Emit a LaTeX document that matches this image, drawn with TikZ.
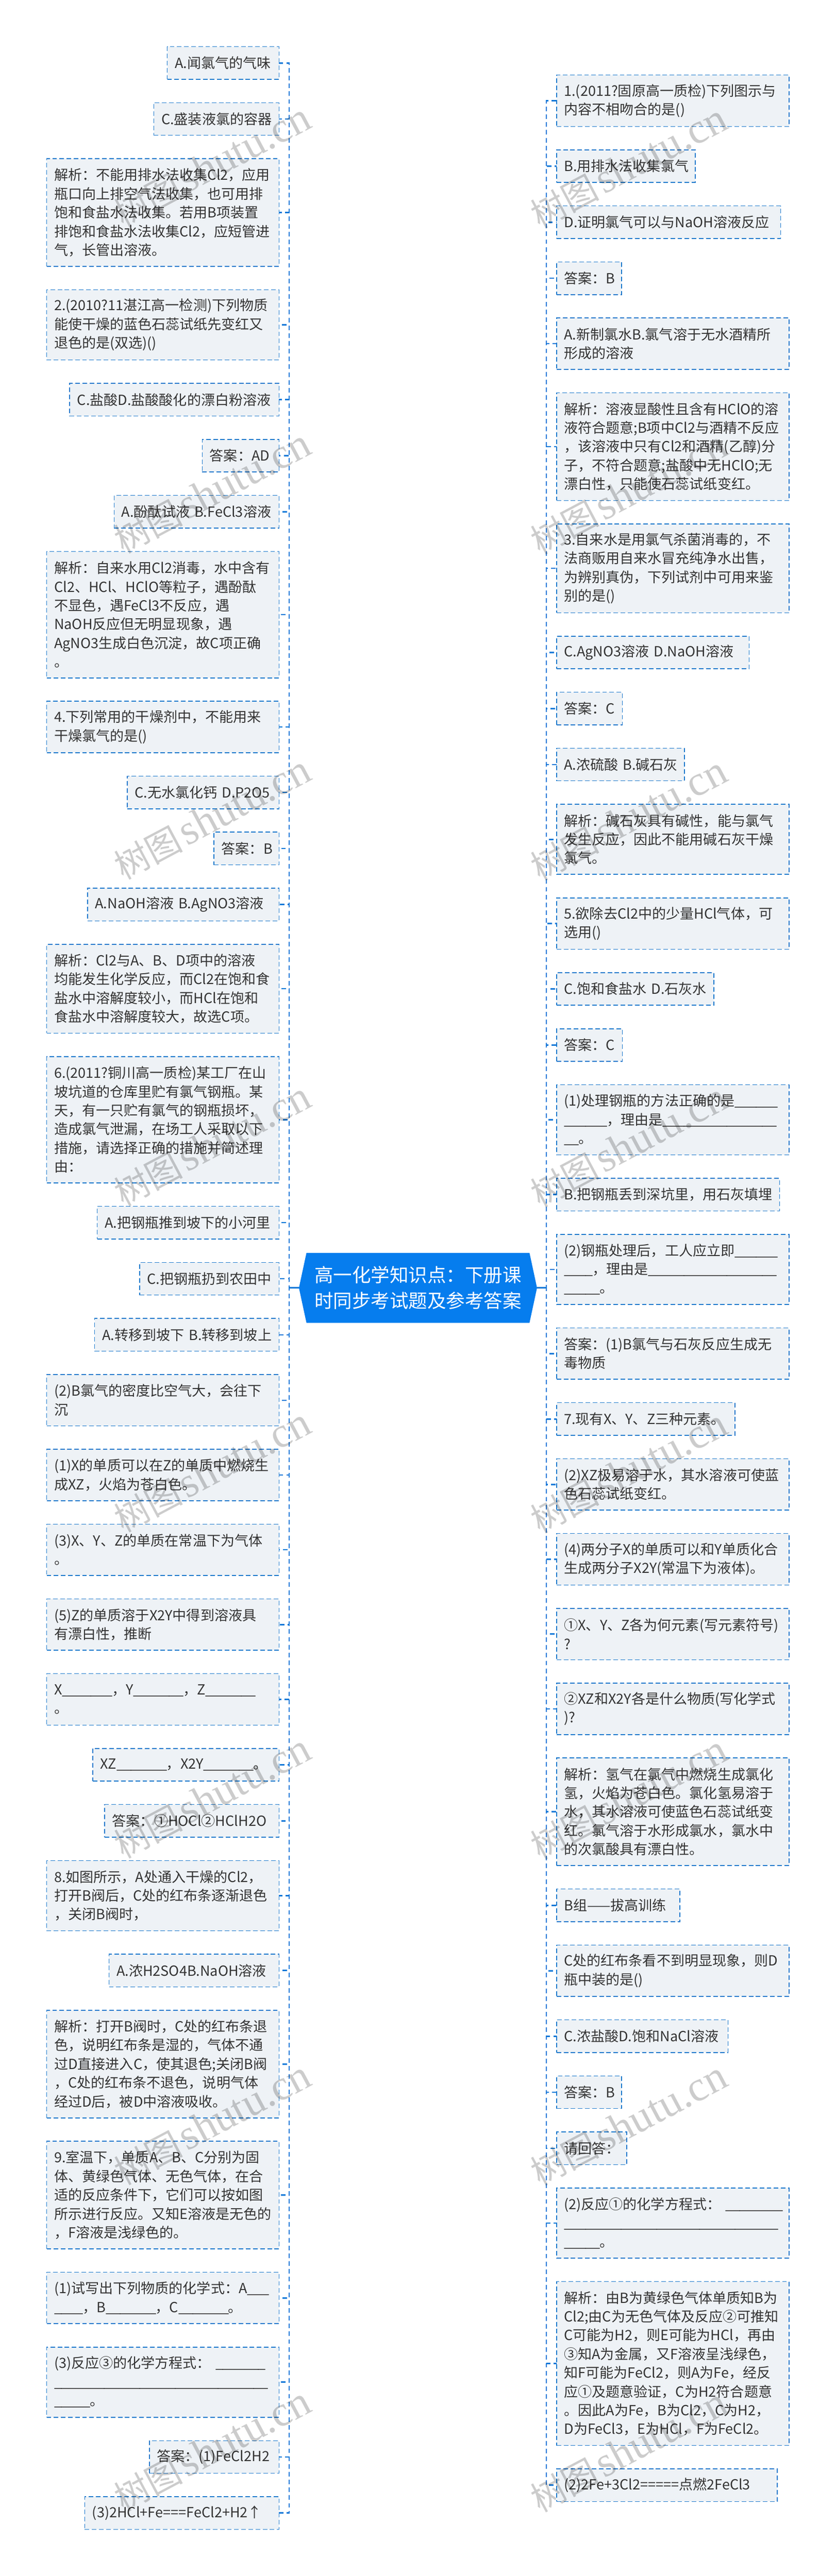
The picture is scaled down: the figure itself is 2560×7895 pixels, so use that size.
\documentclass[tikz,border=0pt]{standalone}
\usepackage{fontspec}
\usepackage{tikz}
\usetikzlibrary{shapes.symbols}
\setmainfont[WordSpace=1.8]{Noto Sans CJK SC}
\newfontfamily\wmlatin{Liberation Serif}
\definecolor{boxfill}{HTML}{EEF2F6}
\definecolor{boxline}{HTML}{1B78CC}
\definecolor{linkblue}{HTML}{0F78D8}
\definecolor{rootblue}{HTML}{067DEE}
\definecolor{inktext}{HTML}{333333}
\newcommand{\ub}[1]{\foreach \i in {1,...,#1}{\makebox[0.218cm][l]{\_}}}
\tikzset{
  itembox/.style={draw=boxline,fill=boxfill,line width=0.7pt,dash pattern=on 4pt off 2.2pt,
    text=inktext,font=\fontsize{12.15}{16.35}\selectfont,align=left,
    inner xsep=0.23cm,inner ysep=0pt,outer sep=0pt},
  lbox/.style 2 args={itembox,anchor=north east,text width=(#1-46)*0.01cm,minimum height=(42.55+57.45*#2)*0.01cm},
  rbox/.style 2 args={itembox,anchor=north west,text width=(#1-46)*0.01cm,minimum height=(42.55+57.45*#2)*0.01cm},
  rootbox/.style={signal,signal to=west and east,signal pointer angle=155.7,fill=rootblue,text=white,
    font=\fontsize{16.4}{22.5}\selectfont,align=left,minimum width=7.29cm,minimum height=2.14cm,inner sep=0pt,outer sep=0pt},
  link/.style={draw=linkblue,line width=1.15pt,dash pattern=on 4pt off 2.8pt},
  rootlink/.style={draw=linkblue,line width=1.15pt},
  wmark/.style={rotate=28,text=black,text opacity=0.2,font=\fontsize{30}{30}\selectfont}
}
\begin{document}
\begin{tikzpicture}[x=0.01cm,y=-0.01cm]
  \useasboundingbox (0,0) rectangle (2560,7895);
  \node[rootbox] (root) at (1280.5,3947) {高一化学知识点：下册课\\时同步考试题及参考答案};
  % left column
  \node[lbox={342.5}{1}] (l1) at (855,143) {A.闻氯气的气味};
  \node[lbox={383.6}{1}] (l2) at (855,314.8) {C.盛装液氯的容器};
  \node[lbox={712}{5}] (l3) at (855,486.6) {解析：不能用排水法收集Cl2，应用\\瓶口向上排空气法收集，也可用排\\饱和食盐水法收集。若用B项装置\\排饱和食盐水法收集Cl2，应短管进\\气，长管出溶液。};
  \node[lbox={712}{3}] (l4) at (855,888.2) {2.(2010?11湛江高一检测)下列物质\\能使干燥的蓝色石蕊试纸先变红又\\退色的是(双选)()};
  \node[lbox={641.5}{1}] (l5) at (855,1174.9) {C.盐酸D.盐酸酸化的漂白粉溶液};
  \node[lbox={235.5}{1}] (l6) at (855,1346.7) {答案：AD};
  \node[lbox={505.4}{1}] (l7) at (855,1518.5) {A.酚酞试液~B.FeCl3溶液};
  \node[lbox={712}{6}] (l8) at (855,1690.3) {解析：自来水用Cl2消毒，水中含有\\Cl2、HCl、HClO等粒子，遇酚酞\\不显色，遇FeCl3不反应，遇\\NaOH反应但无明显现象，遇\\AgNO3生成白色沉淀，故C项正确\\。};
  \node[lbox={712}{2}] (l9) at (855,2149.35) {4.下列常用的干燥剂中，不能用来\\干燥氯气的是()};
  \node[lbox={465.4}{1}] (l10) at (855,2378.6) {C.无水氯化钙~D.P2O5};
  \node[lbox={199.3}{1}] (l11) at (855,2550.4) {答案：B};
  \node[lbox={586.6}{1}] (l12) at (855,2722.2) {A.NaOH溶液~B.AgNO3溶液};
  \node[lbox={712}{4}] (l13) at (855,2894) {解析：Cl2与A、B、D项中的溶液\\均能发生化学反应，而Cl2在饱和食\\盐水中溶解度较小，而HCl在饱和\\食盐水中溶解度较大，故选C项。};
  \node[lbox={712}{6}] (l14) at (855,3238.15) {6.(2011?铜川高一质检)某工厂在山\\坡坑道的仓库里贮有氯气钢瓶。某\\天，有一只贮有氯气的钢瓶损坏，\\造成氯气泄漏，在场工人采取以下\\措施，请选择正确的措施并简述理\\由：};
  \node[lbox={557}{1}] (l15) at (855,3697.2) {A.把钢瓶推到坡下的小河里};
  \node[lbox={427}{1}] (l16) at (855,3869) {C.把钢瓶扔到农田中};
  \node[lbox={565}{1}] (l17) at (855,4040.8) {A.转移到坡下~B.转移到坡上};
  \node[lbox={712}{2}] (l18) at (855,4212.6) {(2)B氯气的密度比空气大，会往下\\沉};
  \node[lbox={712}{2}] (l19) at (855,4441.85) {(1)X的单质可以在Z的单质中燃烧生\\成XZ，火焰为苍白色。};
  \node[lbox={712}{2}] (l20) at (855,4671.1) {(3)X、Y、Z的单质在常温下为气体\\。};
  \node[lbox={712}{2}] (l21) at (855,4900.35) {(5)Z的单质溶于X2Y中得到溶液具\\有漂白性，推断};
  \node[lbox={712}{2}] (l22) at (855,5129.6) {X\ub{7}，Y\ub{7}，Z\ub{7}\\。};
  \node[lbox={571}{1}] (l23) at (855,5358.85) {XZ\ub{7}，X2Y\ub{7}。};
  \node[lbox={534}{1}] (l24) at (855,5530.65) {答案：①HOCl②HClH2O};
  \node[lbox={712}{3}] (l25) at (855,5702.45) {8.如图所示，A处通入干燥的Cl2，\\打开B阀后，C处的红布条逐渐退色\\，关闭B阀时，};
  \node[lbox={521}{1}] (l26) at (855,5989.15) {A.浓H2SO4B.NaOH溶液};
  \node[lbox={712}{5}] (l27) at (855,6160.95) {解析：打开B阀时，C处的红布条退\\色，说明红布条是湿的，气体不通\\过D直接进入C，使其退色;关闭B阀\\，C处的红布条不退色，说明气体\\经过D后，被D中溶液吸收。};
  \node[lbox={712}{5}] (l28) at (855,6562.55) {9.室温下，单质A、B、C分别为固\\体、黄绿色气体、无色气体，在合\\适的反应条件下，它们可以按如图\\所示进行反应。又知E溶液是无色的\\，F溶液是浅绿色的。};
  \node[lbox={712}{2}] (l29) at (855,6964.15) {(1)试写出下列物质的化学式：A\ub{3}\\\ub{4}，B\ub{7}，C\ub{7}。};
  \node[lbox={712}{3}] (l30) at (855,7193.4) {(3)反应③的化学方程式：~\ub{7}\\\ub{30}\\\ub{5}。};
  \node[lbox={397.4}{1}] (l31) at (855,7480.1) {答案：(1)FeCl2H2};
  \node[lbox={595.4}{1}] (l32) at (855,7651.9) {(3)2HCl+Fe===FeCl2+H2↑};
  % right column
  \node[rbox={712}{2}] (r1) at (1705,230) {1.(2011?固原高一质检)下列图示与\\内容不相吻合的是()};
  \node[rbox={425}{1}] (r2) at (1705,459.25) {B.用排水法收集氯气};
  \node[rbox={686}{1}] (r3) at (1705,631.05) {D.证明氯气可以与NaOH溶液反应};
  \node[rbox={199}{1}] (r4) at (1705,802.85) {答案：B};
  \node[rbox={712}{2}] (r5) at (1705,974.65) {A.新制氯水B.氯气溶于无水酒精所\\形成的溶液};
  \node[rbox={712}{5}] (r6) at (1705,1203.9) {解析：溶液显酸性且含有HClO的溶\\液符合题意;B项中Cl2与酒精不反应\\，该溶液中只有Cl2和酒精(乙醇)分\\子，不符合题意;盐酸中无HClO;无\\漂白性，只能使石蕊试纸变红。};
  \node[rbox={712}{4}] (r7) at (1705,1605.5) {3.自来水是用氯气杀菌消毒的，不\\法商贩用自来水冒充纯净水出售，\\为辨别真伪，下列试剂中可用来鉴\\别的是()};
  \node[rbox={590}{1}] (r8) at (1705,1949.65) {C.AgNO3溶液~D.NaOH溶液};
  \node[rbox={201.5}{1}] (r9) at (1705,2121.45) {答案：C};
  \node[rbox={392}{1}] (r10) at (1705,2293.25) {A.浓硫酸~B.碱石灰};
  \node[rbox={712}{3}] (r11) at (1705,2465.05) {解析：碱石灰具有碱性，能与氯气\\发生反应，因此不能用碱石灰干燥\\氯气。};
  \node[rbox={712}{2}] (r12) at (1705,2751.75) {5.欲除去Cl2中的少量HCl气体，可\\选用()};
  \node[rbox={482}{1}] (r13) at (1705,2981) {C.饱和食盐水~D.石灰水};
  \node[rbox={201.5}{1}] (r14) at (1705,3152.8) {答案：C};
  \node[rbox={712}{3}] (r15) at (1705,3324.6) {(1)处理钢瓶的方法正确的是\ub{6}\\\ub{6}，理由是\ub{16}\\\ub{2}。};
  \node[rbox={683}{1}] (r16) at (1705,3611.3) {B.把钢瓶丢到深坑里，用石灰填埋};
  \node[rbox={712}{3}] (r17) at (1705,3783.1) {(2)钢瓶处理后，工人应立即\ub{6}\\\ub{4}，理由是\ub{18}\\\ub{5}。};
  \node[rbox={712}{2}] (r18) at (1705,4069.8) {答案：(1)B氯气与石灰反应生成无\\毒物质};
  \node[rbox={546.5}{1}] (r19) at (1705,4299.05) {7.现有X、Y、Z三种元素。};
  \node[rbox={712}{2}] (r20) at (1705,4470.85) {(2)XZ极易溶于水，其水溶液可使蓝\\色石蕊试纸变红。};
  \node[rbox={712}{2}] (r21) at (1705,4700.1) {(4)两分子X的单质可以和Y单质化合\\生成两分子X2Y(常温下为液体)。};
  \node[rbox={712}{2}] (r22) at (1705,4929.35) {①X、Y、Z各为何元素(写元素符号)\\?};
  \node[rbox={712}{2}] (r23) at (1705,5158.6) {②XZ和X2Y各是什么物质(写化学式\\)?};
  \node[rbox={712}{5}] (r24) at (1705,5387.85) {解析：氢气在氯气中燃烧生成氯化\\氢，火焰为苍白色。氯化氢易溶于\\水，其水溶液可使蓝色石蕊试纸变\\红。氯气溶于水形成氯水，氯水中\\的次氯酸具有漂白性。};
  \node[rbox={378}{1}] (r25) at (1705,5789.45) {B组——拔高训练};
  \node[rbox={712}{2}] (r26) at (1705,5961.25) {C处的红布条看不到明显现象，则D\\瓶中装的是()};
  \node[rbox={525}{1}] (r27) at (1705,6190.5) {C.浓盐酸D.饱和NaCl溶液};
  \node[rbox={199}{1}] (r28) at (1705,6362.3) {答案：B};
  \node[rbox={215}{1}] (r29) at (1705,6534.1) {请回答：};
  \node[rbox={712}{3}] (r30) at (1705,6705.9) {(2)反应①的化学方程式：~\ub{8}\\\ub{30}\\\ub{5}。};
  \node[rbox={712}{8}] (r31) at (1705,6992.6) {解析：由B为黄绿色气体单质知B为\\Cl2;由C为无色气体及反应②可推知\\C可能为H2，则E可能为HCl，再由\\③知A为金属，又F溶液呈浅绿色，\\知F可能为FeCl2，则A为Fe，经反\\应①及题意验证，C为H2符合题意\\。因此A为Fe，B为Cl2，C为H2，\\D为FeCl3，E为HCl，F为FeCl2。};
  \node[rbox={676}{1}] (r32) at (1705,7566.55) {(2)2Fe+3Cl2=====点燃2FeCl3};
  % connectors
  \coordinate (ltrunk) at (886,3947);
  \coordinate (rtrunk) at (1674,3947);
  \foreach \n in {1,...,32}
    \draw[link] (root.west) -- (ltrunk) |- (l\n.east);
  \foreach \n in {1,...,32}
    \draw[link] (root.east) -- (rtrunk) |- (r\n.west);
  \draw[rootlink] (root.west) -- (ltrunk);
  \draw[rootlink] (root.east) -- (rtrunk);
  % watermark
  \foreach \wy in {507,1507,...,7507}
    \node[wmark] (wl\wy) at (650,\wy) {树图\hspace{0.12cm}{\wmlatin\fontsize{37}{37}\selectfont shutu.cn}};
  \foreach \wy in {510,1510,...,7510}
    \node[wmark] (wr\wy) at (1926,\wy) {树图\hspace{0.12cm}{\wmlatin\fontsize{37}{37}\selectfont shutu.cn}};
\end{tikzpicture}
\end{document}
